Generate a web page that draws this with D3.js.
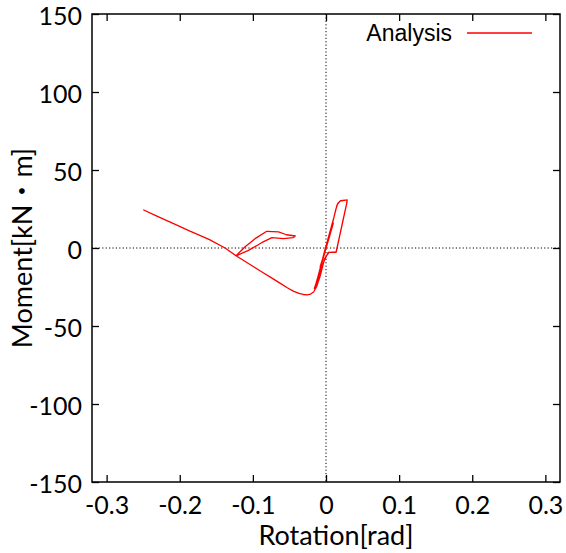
<!DOCTYPE html>
<html>
<head>
<meta charset="utf-8">
<script src="https://cdn.jsdelivr.net/npm/d3@7"></script>
<style>
html,body{margin:0;padding:0;background:#fff;}
svg{display:block;}
</style>
</head>
<body>
<svg id="chart" width="566" height="553"></svg>
<script>
// ---- data ----
const seriesName = "Analysis";
const rotation = [
  0, 0.003, -0.004, -0.008, -0.005, 0.004, 0.010, 0.006, -0.002, -0.010,
  -0.015, -0.012, 0.002, 0.008, 0.013, 0.016, 0.020, 0.029, 0.0285, 0.0137,
  0.003, -0.004, -0.014, -0.016, -0.013, -0.003, 0.004, 0.011, 0.015, 0.019,
  0.029, 0.0285, 0.014, 0.004, -0.002, -0.008, -0.013, -0.017, -0.021, -0.026,
  -0.031, -0.037, -0.044, -0.053, -0.063, -0.075, -0.087, -0.099, -0.111, -0.123,
  -0.111, -0.097, -0.081, -0.065, -0.054, -0.042,
  -0.045, -0.058, -0.074, -0.088, -0.106, -0.123,
  -0.138, -0.160, -0.186, -0.210, -0.232, -0.250
];
const moment = [
  0, 5, -6, -12, -8, 6, 16, 10, -2, -18,
  -25, -20, 3, 14, 24, 28.5, 30.3, 30.8, 29, -2.8,
  -2.8, -10, -24, -26, -22, -4, 8, 20, 27.5, 30,
  30.8, 29, -2.5, -2.8, -7, -18, -25, -28.2, -29.5, -30,
  -29.8, -29.1, -27.8, -25.5, -22.5, -19, -15.5, -12, -8.5, -5,
  0.6, 6, 10.7, 10.3, 8.5, 7.7,
  6.6, 6, 6.6, 3.4, -1.5, -5,
  0, 5.5, 10.8, 16, 20.6, 24.5
];
const xTicks = [-0.3, -0.2, -0.1, 0, 0.1, 0.2, 0.3];
const yTicks = [-150, -100, -50, 0, 50, 100, 150];
const xDomain = [-0.32, 0.32];
const yDomain = [-150, 150];
const xTitle = "Rotation[rad]";
const yTitle = "Moment[kN\u30FBm]";

// ---- layout ----
const L = 92, R = 560, T = 14, B = 482;
const svg = d3.select("#chart");
const x = d3.scaleLinear().domain(xDomain).range([L, R]);
const y = d3.scaleLinear().domain(yDomain).range([B, T]);
const tickFont = "Lato, 'Open Sans', sans-serif";

// zero lines
svg.append("line").attr("x1", x(0)).attr("x2", x(0)).attr("y1", T).attr("y2", B)
  .attr("stroke", "#000").attr("stroke-width", 1).attr("stroke-dasharray", "1.2,2.2");
svg.append("line").attr("x1", L).attr("x2", R).attr("y1", y(0)).attr("y2", y(0))
  .attr("stroke", "#000").attr("stroke-width", 1).attr("stroke-dasharray", "1.2,2.2");

// axes with inward ticks
const tl = 7;
const axB = svg.append("g").attr("transform", `translate(0,${B})`)
  .call(d3.axisBottom(x).tickValues(xTicks).tickSizeInner(-tl).tickSizeOuter(0).tickPadding(14)
    .tickFormat(d => String(d)));
const axT = svg.append("g").attr("transform", `translate(0,${T})`)
  .call(d3.axisTop(x).tickValues(xTicks).tickSizeInner(-tl).tickSizeOuter(0).tickFormat(""));
const axL = svg.append("g").attr("transform", `translate(${L},0)`)
  .call(d3.axisLeft(y).tickValues(yTicks).tickSizeInner(-tl).tickSizeOuter(0).tickPadding(10)
    .tickFormat(d => String(d)));
const axR = svg.append("g").attr("transform", `translate(${R},0)`)
  .call(d3.axisRight(y).tickValues(yTicks).tickSizeInner(-tl).tickSizeOuter(0).tickFormat(""));
[axB, axT, axL, axR].forEach(g => {
  g.select(".domain").remove();
  g.selectAll(".tick line").attr("stroke", "#000").attr("stroke-width", 1.3);
});
axB.selectAll(".tick text").attr("font-family", tickFont).attr("font-size", 25).attr("fill", "#000")
  .attr("dy", "0.71em");
axL.selectAll(".tick text").attr("font-family", tickFont).attr("font-size", 25).attr("fill", "#000")
  .attr("dy", "0.42em");

// frame
svg.append("rect").attr("x", L).attr("y", T).attr("width", R - L).attr("height", B - T)
  .attr("fill", "none").attr("stroke", "#000").attr("stroke-width", 1.5);

// curve
const pts = rotation.map((r, i) => [r, moment[i]]);
const line = d3.line().x(d => x(d[0])).y(d => y(d[1]));
svg.append("path").datum(pts).attr("d", line)
  .attr("fill", "none").attr("stroke", "#ff0000").attr("stroke-width", 1.3)
  .attr("stroke-linejoin", "round");

// titles
svg.append("text").attr("x", 336).attr("y", 545).attr("text-anchor", "middle")
  .attr("font-family", tickFont).attr("font-size", 27).attr("fill", "#000").text(xTitle);
svg.append("text").attr("transform", "translate(32,248) rotate(-90)").attr("text-anchor", "middle")
  .attr("font-family", tickFont + ", 'Noto Sans CJK JP'").attr("font-size", 27).attr("fill", "#000").text(yTitle);

// legend
svg.append("text").attr("x", 452).attr("y", 41).attr("text-anchor", "end")
  .attr("font-family", "'Liberation Sans', Arial, sans-serif").attr("font-size", 23).attr("fill", "#000")
  .text(seriesName);
svg.append("line").attr("x1", 467).attr("x2", 532).attr("y1", 33).attr("y2", 33)
  .attr("stroke", "#ff0000").attr("stroke-width", 1.3);
</script>
</body>
</html>
